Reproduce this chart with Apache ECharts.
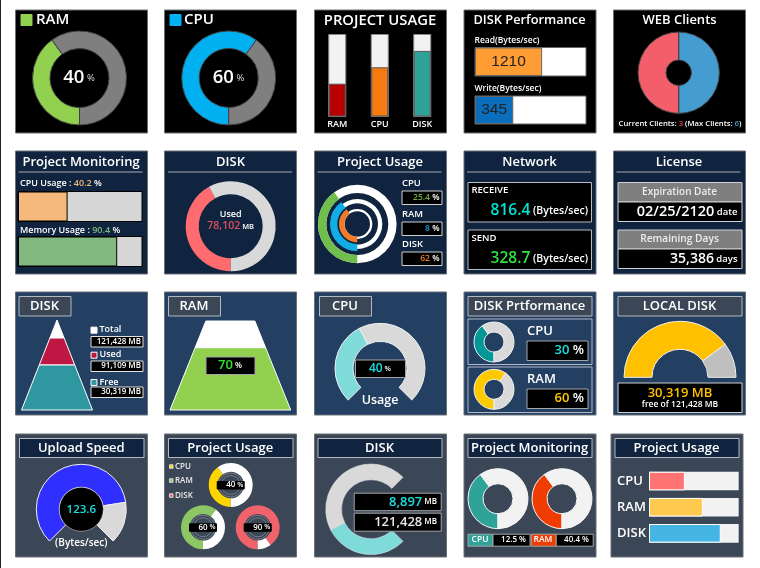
<!DOCTYPE html>
<html>
<head>
<meta charset="utf-8">
<title>Dashboard widgets</title>
<script src="https://cdn.jsdelivr.net/npm/echarts@6/dist/echarts.min.js"></script>
<style>
html, body { margin: 0; padding: 0; background: #fff; }
#chart-container { width: 760px; height: 568px; }
</style>
</head>
<body>
<div id="chart-container"></div>
<script>
// row 1
const ramDonut = [40, 60];
const cpuDonut = [60, 40];
const usageCategories = ['RAM', 'CPU', 'DISK'];
const usageBars = [40, 60, 80];
const readBytes = [1210];
const readMax = 2000;
const writeBytes = [345];
const writeMax = 1000;
const webClients = [3, 3];
const webClientsCurrent = 3;
const webClientsMax = 6;

// row 2
const monitorCpuBar = [40];
const monitorCpuLabel = '40.2';
const monitorMemBar = [80];
const monitorMemLabel = '90.4';
const diskUsedDonut = [42, 58];
const diskUsedLabel = '78,102';
const ringValues = [40, 40, 40];
const ringLabels = ['25.4', '8', '62'];
const networkReceive = '816.4';
const networkSend = '328.7';
const licenseDate = '02/25/2120';
const licenseDays = '35,386';

// row 3
const diskPyramidShares = [20, 30, 50];
const diskPyramidNames = ['Total', 'Used', 'Free'];
const diskPyramidLabels = ['121,428 MB', '91,109 MB', '30,319 MB'];
const ramTrapezoidShares = [30, 70];
const cpuGauge = [40, 60];
const perfCpuDonut = [40, 60];
const perfCpuLabel = 30;
const perfRamDonut = [60, 40];
const localDiskGauge = [80, 20];

// row 4
const uploadGauge = [80, 20];
const uploadLabel = '123.6';
const smallDonuts = [40, 60, 90];
const smallDonutNames = ['CPU', 'RAM', 'DISK'];
const diskArc = [40, 60];
const monitorCpuDonut = [40, 60];
const monitorRamDonut = [40, 60];
const barCategories = ['CPU', 'RAM', 'DISK'];
const barValues = [40, 60, 80];

const FONT = '"Open Sans", "Noto Sans", sans-serif';
const chartContainer = document.getElementById('chart-container');
const myChart = echarts.init(chartContainer);

const elements = [];
const grids = [];
const xAxes = [];
const yAxes = [];
const seriesList = [];

function panel(x, y, w, h, fill) {
    elements.push({ type: 'rect', z: 0, silent: true, shape: { x: x + 0.5, y: y + 0.5, width: w, height: h },
        style: { fill: fill, stroke: '#6b6f76', lineWidth: 1 } });
}

function box(x, y, w, h, fill, stroke, z) {
    elements.push({ type: 'rect', z: z === undefined ? 20 : z, silent: true, shape: { x: x + 0.5, y: y + 0.5, width: w, height: h },
        style: { fill: fill, stroke: stroke || '#a6a6a6', lineWidth: 1 } });
}

// mixed size text: runs = [[string, size, color, weight], ...]
function label(x, y, align, runs) {
    const rich = {};
    let str = '';
    runs.forEach((r, i) => {
        rich['r' + i] = { fontSize: r[1], fill: r[2] || '#fff', fontWeight: r[3] || 600, fontFamily: r[4] || FONT };
        str += '{r' + i + '|' + r[0] + '}';
    });
    elements.push({ type: 'text', z: 30, silent: true, x: x, y: y,
        style: { text: str, rich: rich, textAlign: align, textVerticalAlign: 'middle' } });
}

function pie(cx, cy, r0, r1, values, colors, opts) {
    opts = opts || {};
    seriesList.push({
        type: 'pie', center: [cx, cy], radius: [r0, r1], silent: true, animation: false,
        startAngle: opts.start === undefined ? 270 : opts.start,
        endAngle: opts.end === undefined ? 'auto' : opts.end,
        clockwise: true, sort: null, minAngle: 0,
        label: { show: false }, labelLine: { show: false },
        itemStyle: { borderColor: opts.border || '#404040', borderWidth: opts.bw === undefined ? 1 : opts.bw },
        data: values.map((v, i) => ({ value: v, itemStyle: { color: colors[i] } }))
    });
}

function addGrid(l, t, w, h) {
    grids.push({ left: l, top: t, width: w, height: h, containLabel: false });
    return grids.length - 1;
}

function hBar(l, t, w, h, values, max, color, bg, stroke, lbl) {
    const idx = addGrid(l, t, w, h);
    xAxes.push({ gridIndex: idx, type: 'value', min: 0, max: max, show: false });
    yAxes.push({ gridIndex: idx, type: 'category', data: [''], show: false });
    seriesList.push({
        type: 'bar', xAxisIndex: idx, yAxisIndex: idx, data: values, barWidth: '100%', silent: true, animation: false,
        showBackground: true, backgroundStyle: { color: bg, borderColor: stroke, borderWidth: 1 },
        itemStyle: { color: color, borderColor: stroke, borderWidth: 1 },
        label: lbl ? { show: true, position: 'inside', color: '#222', fontSize: 15.5, fontFamily: '"Liberation Sans", Arial, sans-serif' } : { show: false }
    });
}

function titleBar(x, y, w, h, text, fill, size) {
    box(x, y, w, h, fill, '#b4b8bf');
    label(x + w / 2, y + h / 2 + 0.5, 'center', [[text, size, '#fff', 600]]);
}

function header(x, text, y) {
    label(x + 66, y + 11.5, 'center', [[text, 13, '#fff', 600]]);
    elements.push({ type: 'line', z: 10, silent: true, shape: { x1: x + 3.5, y1: y + 21.5, x2: x + 127.5, y2: y + 21.5 },
        style: { stroke: '#a6aab3', lineWidth: 1.2 } });
}

const COL = [15, 164, 314, 463.5, 613];
const ROW = [9.5, 150.5, 291.5, 433.5];
const PW = 132;
const PH = 123;

// left edge line
elements.push({ type: 'line', z: 0, silent: true, shape: { x1: 0.5, y1: 0, x2: 0.5, y2: 568 }, style: { stroke: '#222', lineWidth: 1 } });

// ------ row 1 ------
const BLACK = '#000';
COL.forEach(x => panel(x, ROW[0], PW, PH, BLACK));

box(20.5, 14, 11, 11, '#92d050', '#92d050');
label(36, 19.5, 'left', [['RAM', 15, '#fff', 600]]);
pie(79.5, 78, 29.5, 47, ramDonut, ['#92d050', '#7f7f7f']);
label(79, 78, 'center', [[ramDonut[0], 18.5, '#fff', 600], [' %', 9.5, '#ddd', 500]]);

box(169.5, 14, 11, 11, '#00b0f0', '#00b0f0');
label(184, 19.5, 'left', [['CPU', 15, '#fff', 600]]);
pie(228.7, 78, 29.5, 47, cpuDonut, ['#00b0f0', '#7f7f7f']);
label(228.5, 78, 'center', [[cpuDonut[0], 18.5, '#fff', 600], [' %', 9.5, '#ddd', 500]]);

label(380, 20.5, 'center', [['PROJECT USAGE', 14.8, '#fff', 600]]);
const usageGrid = addGrid(316, 34.5, 127.5, 82);
xAxes.push({ gridIndex: usageGrid, type: 'category', data: usageCategories,
    axisLine: { show: false }, axisTick: { show: false },
    axisLabel: { color: '#fff', fontSize: 9, fontWeight: 600, fontFamily: FONT, margin: 3 } });
yAxes.push({ gridIndex: usageGrid, type: 'value', min: 0, max: 100, show: false });
seriesList.push({
    type: 'bar', xAxisIndex: usageGrid, yAxisIndex: usageGrid, barWidth: 17, silent: true, animation: false,
    showBackground: true, backgroundStyle: { color: '#f2f2f2', borderColor: '#8a8a8a', borderWidth: 1 },
    data: usageBars.map((v, i) => ({ value: v, itemStyle: { color: ['#b80000', '#f57a10', '#2fa39a'][i], borderColor: '#555', borderWidth: 1 } }))
});

label(529.5, 20.5, 'center', [['DISK Performance', 12.8, '#fff', 600]]);
label(474.5, 41, 'left', [['Read(Bytes/sec)', 8.5, '#fff']]);
hBar(475, 47.5, 111, 28.5, readBytes, readMax, '#ff9c33', '#fff', '#666', true);
label(474.5, 89, 'left', [['Write(Bytes/sec)', 8.5, '#fff']]);
hBar(475, 96, 111, 28, writeBytes, writeMax, '#0a6ebd', '#fff', '#666', true);

label(679.5, 20.5, 'center', [['WEB Clients', 13, '#fff', 600]]);
pie(678.7, 72.7, 12.7, 40.7, webClients, ['#459cd1', '#f25f6a'], { start: 90 });
label(680, 124, 'center', [['Current Clients: ', 7.7, '#fff'], [webClientsCurrent, 7.7, '#e8404c'], [' (Max Clients: ', 7.7, '#fff'], [webClientsMax, 7.7, '#459cd1'], [')', 7.7, '#fff']]);

// ------ row 2 ------
const NAVY = '#10243f';
COL.forEach(x => panel(x, ROW[1], PW, PH, NAVY));

header(15, 'Project Monitoring', ROW[1]);
label(20, 183.7, 'left', [['CPU Usage : ', 9, '#fff'], [monitorCpuLabel, 9, '#f4b977'], [' %', 9, '#fff']]);
hBar(18, 191.5, 124, 30, monitorCpuBar, 100, '#f4b97b', '#d6d6d6', '#000');
label(20, 230, 'left', [['Memory Usage : ', 9, '#fff'], [monitorMemLabel, 9, '#7dbb7d'], [' %', 9, '#fff']]);
hBar(18, 236.5, 124, 30, monitorMemBar, 100, '#81b981', '#d6d6d6', '#000');

header(164.5, 'DISK', ROW[1]);
pie(230.7, 226.3, 32, 45, diskUsedDonut, ['#ff6b6e', '#d9d9d9'], { bw: 0 });
label(230.7, 214, 'center', [['Used', 9, '#fff']]);
label(230.7, 226.5, 'center', [[diskUsedLabel, 10.5, '#e0505f', 600], [' MB', 7.5, '#fff']]);

header(314, 'Project Usage', ROW[1]);
// white track rings are thinner than the coloured arcs
pie(357.3, 224, 31, 39.3, [100], ['#fff'], { bw: 0 });
pie(357.3, 224, 20.7, 25, [100], ['#fff'], { bw: 0 });
pie(357.3, 224, 12.7, 15, [100], ['#fff'], { bw: 0 });
pie(357.3, 224, 31, 39.3, [ringValues[0], 100 - ringValues[0]], ['#70bf4c', 'transparent'], { bw: 0 });
pie(357.3, 224, 20, 27.3, [ringValues[1], 100 - ringValues[1]], ['#12ade6', 'transparent'], { bw: 0 });
pie(357.3, 224, 12.7, 18.3, [ringValues[2], 100 - ringValues[2]], ['#f07a28', 'transparent'], { bw: 0 });
const ringColors = ['#70ad47', '#1ba1e2', '#ed7d31'];
['CPU', 'RAM', 'DISK'].forEach((name, i) => {
    const y = [190.5, 221.5, 251.5][i];
    label(402, y - 7, 'left', [[name, 9.5, '#fff']]);
    box(401.5, y, 40, 13.5, '#000', '#d0d0d0');
    label(439.5, y + 7, 'right', [[ringLabels[i], 8.5, ringColors[i]], [' %', 8.5, '#fff']]);
});

header(463.5, 'Network', ROW[1]);
box(467.5, 182, 123.5, 39.5, '#000', '#b8bcc4');
label(471.5, 190.5, 'left', [['RECEIVE', 9.5, '#fff']]);
label(588, 211, 'right', [[networkReceive, 15.5, '#00e5d0'], [' (Bytes/sec)', 10.5, '#fff']]);
box(467.5, 229.5, 123.5, 39.5, '#000', '#b8bcc4');
label(471.5, 238.5, 'left', [['SEND', 9.5, '#fff']]);
label(588, 259, 'right', [[networkSend, 15.5, '#2fe33f'], [' (Bytes/sec)', 10.5, '#fff']]);

header(613, 'License', ROW[1]);
box(617.5, 182, 124, 19.5, '#7f7f7f', '#cfd2d7');
label(679.5, 192, 'center', [['Expiration Date', 10, '#eee']]);
box(617.5, 201.5, 124, 19.5, '#000', '#cfd2d7');
label(737.5, 212, 'right', [[licenseDate, 14.5, '#fff'], [' date', 9.5, '#fff']]);
box(617.5, 229.5, 124, 19, '#7f7f7f', '#cfd2d7');
label(679.5, 239.5, 'center', [['Remaining Days', 10.2, '#eee']]);
box(617.5, 248.5, 124, 19.5, '#000', '#cfd2d7');
label(737.5, 259, 'right', [[licenseDays, 14, '#fff'], [' days', 9.5, '#fff']]);

// ------ row 3 ------
const BLUE = '#233f62';
const SLATE = '#3b4657';
COL.forEach(x => panel(x, ROW[2], PW, PH, BLUE));

titleBar(18.5, 296, 52, 19.5, 'DISK', SLATE, 13);
let cumulative = 0;
seriesList.push({
    type: 'funnel', left: 21.5, top: 320, width: 71, height: 90, sort: 'ascending', gap: 0, min: 0, max: 100,
    minSize: 0, maxSize: '100%', silent: true, animation: false, label: { show: false }, labelLine: { show: false },
    data: diskPyramidShares.map((v, i) => {
        cumulative += v;
        return { name: diskPyramidNames[i], value: cumulative,
            itemStyle: { height: v + '%', color: ['#fff', '#be1744', '#2f97a0'][i], borderColor: '#fff', borderWidth: 1 } };
    })
});
diskPyramidNames.forEach((name, i) => {
    const sq = [326.7, 351.7, 379][i];
    const by = [336, 360.5, 386.5][i];
    box(90.5, sq, 6, 6, ['#fff', '#be1744', '#2f97a0'][i], '#fff');
    label(99.5, sq + 3, 'left', [[name, 9, '#fff']]);
    box(90.5, by, 52, 10.5, '#000', '#e0e0e0');
    label(141, by + 5.5, 'right', [[diskPyramidLabels[i], 8, '#fff']]);
});

titleBar(168, 296, 52, 19.5, 'RAM', SLATE, 13);
let ramCumulative = 0;
seriesList.push({
    type: 'funnel', left: 170, top: 321, width: 120.7, height: 89, sort: 'ascending', gap: 0, min: 0, max: 100,
    minSize: '40.6%', maxSize: '100%', silent: true, animation: false, label: { show: false }, labelLine: { show: false },
    data: ramTrapezoidShares.map((v, i) => {
        ramCumulative += v;
        return { name: i ? 'used' : 'free', value: ramCumulative,
            itemStyle: { height: v + '%', color: ['#fff', '#92d050'][i], borderColor: '#fff', borderWidth: 1 } };
    })
});
box(205.5, 356.5, 49, 17.5, '#000', '#a6a6a6');
label(230, 365.5, 'center', [[ramTrapezoidShares[1], 13, '#2ee52e'], [' %', 8, '#fff']]);

titleBar(319, 296, 52, 19.5, 'CPU', SLATE, 13);
pie(380, 368.3, 27, 45, cpuGauge, ['#7fdada', '#d9d9d9'], { start: 225, end: -45, border: '#f0f0f0' });
box(355, 359.5, 50, 17.5, '#000', '#a6a6a6');
label(380, 368.5, 'center', [[cpuGauge[0], 12, '#18e0e0'], [' %', 7.5, '#fff']]);
label(380, 400.5, 'center', [['Usage', 12.5, '#fff']]);

titleBar(467.5, 296, 124, 19.5, 'DISK Prtformance', SLATE, 13);
box(467.5, 318.5, 124, 45.5, BLUE, '#b4b8c8', 1);
box(467.5, 366.5, 124, 45.5, BLUE, '#b4b8c8', 1);
pie(494, 342, 10, 20, perfCpuDonut, ['#009896', '#d9d9d9'], { border: '#f0f0f0' });
pie(494, 389.3, 10, 20, perfRamDonut, ['#ffc900', '#d9d9d9'], { border: '#f0f0f0' });
label(527, 331, 'left', [['CPU', 13, '#fff']]);
box(526.5, 340.5, 61, 19.5, '#000', '#a6a6a6');
label(584, 350.5, 'right', [[perfCpuLabel, 13, '#18e0e0'], [' %', 13, '#fff']]);
label(527, 379.5, 'left', [['RAM', 13, '#fff']]);
box(526.5, 388.5, 61, 19.5, '#000', '#a6a6a6');
label(584, 398.5, 'right', [[perfRamDonut[0], 13, '#ffc900'], [' %', 13, '#fff']]);

titleBar(617.5, 296, 124, 19.5, 'LOCAL DISK', SLATE, 13);
pie(680, 377.3, 28, 56, localDiskGauge, ['#ffc000', '#bfbfbf'], { start: 180, end: 0, border: '#f0f0f0' });
box(617.5, 382.5, 124, 29.5, '#000', '#d0d0d0');
label(680, 393.5, 'center', [['30,319 MB', 13, '#ffc000']]);
label(680, 404.5, 'center', [['free of 121,428 MB', 8.5, '#fff']]);

// ------ row 4 ------
[15, 164, 314, 463.5, 610.5].forEach(x => panel(x, ROW[3], PW, PH, SLATE));

titleBar(19, 438, 124.5, 19, 'Upload Speed', NAVY, 13);
pie(81.3, 509.3, 22, 45, uploadGauge, ['#2f2fff', '#d9d9d9'], { start: 225, end: -45, border: '#f0f0f0' });
elements.push({ type: 'circle', z: 10, silent: true, shape: { cx: 81.3, cy: 509.3, r: 22 }, style: { fill: '#000', stroke: '#e0e0e0', lineWidth: 0.5 } });
label(81.3, 509.5, 'center', [[uploadLabel, 11.5, '#18e0e0']]);
label(81.3, 543, 'center', [['(Bytes/sec)', 10, '#fff']]);

titleBar(168, 438, 124.5, 19, 'Project Usage', NAVY, 13);
const smallColors = ['#ffd500', '#8cc665', '#f0636a'];
const smallCenters = [[230.7, 485], [203, 527.3], [257.7, 527.3]];
smallDonutNames.forEach((name, i) => {
    const ly = [466.3, 480.3, 495.3][i];
    box(169, ly - 2, 3.5, 3.5, smallColors[i], '#ddd');
    label(175, ly, 'left', [[name, 8, '#e8e8e8']]);
    const c = smallCenters[i];
    pie(c[0], c[1], 13.3, 22, [smallDonuts[i], 100 - smallDonuts[i]], [smallColors[i], '#fff'], { bw: 0 });
    [12, 9.5].forEach(r => {
        elements.push({ type: 'circle', z: 10, silent: true, shape: { cx: c[0], cy: c[1], r: r }, style: { fill: 'none', stroke: '#9aa0aa', lineWidth: 0.6 } });
    });
    box(c[0] - 14, c[1] - 4, 27, 7.5, '#000', '#000');
    label(c[0] + 12.5, c[1], 'right', [[smallDonuts[i], 8, '#fff'], [' %', 7, '#fff']]);
});

titleBar(317.5, 438, 124, 19, 'DISK', NAVY, 13);
pie(371, 509.3, 29.5, 45.3, diskArc, ['#7fdada', '#d9d9d9'], { start: -45, end: -315, border: '#e8e8e8', bw: 0.5 });
box(353.7, 492.7, 87, 17.5, '#000', '#a6a6a6');
label(437, 502, 'right', [['8,897', 13, '#18e0e0'], [' MB', 8, '#fff']]);
box(353.7, 512.7, 87, 18, '#000', '#a6a6a6');
label(437, 522, 'right', [['121,428', 13, '#e8e8e8'], [' MB', 8, '#fff']]);

titleBar(467.5, 438, 124, 19, 'Project Monitoring', NAVY, 13);
pie(498, 498.7, 15, 30, monitorCpuDonut, ['#2fa39a', '#f2f2f2'], { border: '#f8f8f8' });
pie(562, 498.7, 15, 30, monitorRamDonut, ['#f03c00', '#f2f2f2'], { border: '#f8f8f8' });
box(467.5, 533.7, 25, 12, '#2fa39a', '#a6a6a6');
label(480, 540, 'center', [['CPU', 8.5, '#fff']]);
box(492.5, 533.7, 37, 12, '#000', '#a6a6a6');
label(526, 540, 'right', [['12.5 %', 8, '#fff']]);
box(530.7, 533.7, 25, 12, '#f03c00', '#a6a6a6');
label(543, 540, 'center', [['RAM', 8.5, '#fff']]);
box(555.7, 533.7, 37, 12, '#000', '#a6a6a6');
label(589, 540, 'right', [['40.4 %', 8, '#fff']]);

titleBar(614.5, 438, 124, 19, 'Project Usage', NAVY, 13);
const barGrid = addGrid(649, 468, 89.7, 78.4);
xAxes.push({ gridIndex: barGrid, type: 'value', min: 0, max: 100, show: false });
yAxes.push({ gridIndex: barGrid, type: 'category', data: barCategories, inverse: true,
    axisLine: { show: false }, axisTick: { show: false },
    axisLabel: { color: '#fff', fontSize: 13, fontWeight: 600, fontFamily: FONT, align: 'left', margin: 32 } });
seriesList.push({
    type: 'bar', xAxisIndex: barGrid, yAxisIndex: barGrid, barWidth: 18.6, silent: true, animation: false,
    showBackground: true, backgroundStyle: { color: '#f2f2f2' },
    data: barValues.map((v, i) => ({ value: v, itemStyle: { color: ['#ff7373', '#ffc84f', '#45b5e3'][i], borderColor: '#fff', borderWidth: 1 } }))
});

myChart.setOption({
    animation: false,
    tooltip: { show: false },
    graphic: { elements: elements },
    grid: grids,
    xAxis: xAxes,
    yAxis: yAxes,
    series: seriesList
});
</script>
</body>
</html>
